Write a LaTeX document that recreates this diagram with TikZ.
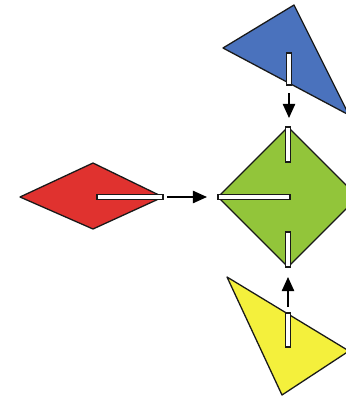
\documentclass[tikz,border=0pt]{standalone}
\usepackage{xcolor}
\usetikzlibrary{arrows.meta}
\definecolor{pieceRed}{HTML}{E0322F}
\definecolor{pieceGreen}{HTML}{92C53A}
\definecolor{pieceBlue}{HTML}{4A72BD}
\definecolor{pieceYellow}{HTML}{F4F03C}

\begin{document}
\begin{tikzpicture}[x=0.03cm, y=-0.03cm,
    piece/.style={draw=black!90, line width=1.1pt, line join=round},
    slot/.style={draw=black!90, fill=white, line width=0.9pt},
    fitarrow/.style={line width=1.3pt, -{Triangle[length=12pt,width=10.5pt]}}]
        \useasboundingbox (0,0) rectangle (346,396);
        \clip (0,0) rectangle (346,396);

        % red diamond, left
        \coordinate (redL) at (20,197);
        \coordinate (redT) at (93,163);
        \coordinate (redR) at (163,197);
        \coordinate (redB) at (93,229);
        \filldraw[piece, fill=pieceRed] (redL) -- (redT) -- (redR) -- (redB) -- cycle;
        \draw[slot] (97,194.5) rectangle (163,199.5);

        % green diamond, middle
        \coordinate (grnT) at (288,127);
        \coordinate (grnL) at (218,197);
        \coordinate (grnR) at (358,197);
        \coordinate (grnB) at (288,267);
        \filldraw[piece, fill=pieceGreen] (grnT) -- (grnR) -- (grnB) -- (grnL) -- cycle;
        \draw[slot] (285.5,127) rectangle (290.5,162);
        \draw[slot] (218,194.5) rectangle (290,199.5);
        \draw[slot] (285.5,232) rectangle (290.5,267);

        % blue triangle, top
        \coordinate (bluL) at (223,48);
        \coordinate (bluT) at (294,5);
        \coordinate (bluR) at (349,115);
        \filldraw[piece, fill=pieceBlue] (bluL) -- (bluT) -- (bluR) -- cycle;
        \draw[slot] (286.5,53) rectangle (291.5,85);

        % yellow triangle, bottom
        \coordinate (yelL) at (227,277);
        \coordinate (yelR) at (349,351);
        \coordinate (yelB) at (282,395);
        \filldraw[piece, fill=pieceYellow] (yelL) -- (yelR) -- (yelB) -- cycle;
        \draw[slot] (285.5,313) rectangle (290.5,347);

        % arrows
        \coordinate (redOut) at (167,197);
        \coordinate (grnIn) at (207,197);
        \coordinate (bluOut) at (289,93);
        \coordinate (grnTop) at (289,118);
        \coordinate (yelOut) at (288,307);
        \coordinate (grnBot) at (288,277);
        \draw[fitarrow] (redOut) -- (grnIn);
        \draw[fitarrow] (bluOut) -- (grnTop);
        \draw[fitarrow] (yelOut) -- (grnBot);
\end{tikzpicture}
\end{document}
